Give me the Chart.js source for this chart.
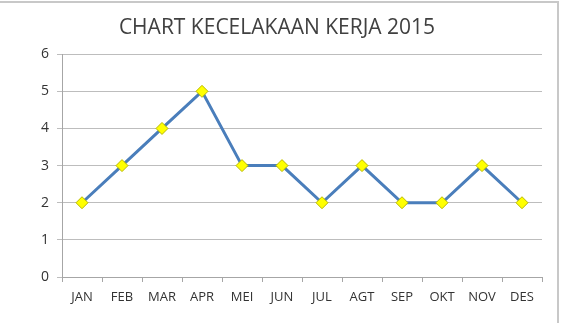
<!DOCTYPE html>
<html>
<head>
<meta charset="utf-8">
<script src="https://cdn.jsdelivr.net/npm/chart.js@4"></script>
<style>
  html, body { margin: 0; padding: 0; background: #fff; }
  #wrap { width: 561px; height: 323px; }
</style>
</head>
<body>
<div id="wrap"><canvas id="chart" width="561" height="323"></canvas></div>
<script>
// Data
const months = ['JAN', 'FEB', 'MAR', 'APR', 'MEI', 'JUN', 'JUL', 'AGT', 'SEP', 'OKT', 'NOV', 'DES'];
const accidents = [2, 3, 4, 5, 3, 3, 2, 3, 2, 2, 3, 2];
const yTicks = [0, 1, 2, 3, 4, 5, 6];

const labelFont = { family: "'Open Sans', 'Liberation Sans', sans-serif", size: 13 };

// thin frame round the chart (only top and right show in the picture)
const frame = {
    id: 'frame',
    beforeDraw(chart) {
        const ctx = chart.ctx;
        ctx.save();
        ctx.strokeStyle = '#c8c8c8';
        ctx.lineWidth = 2;
        ctx.beginPath();
        ctx.moveTo(0, 2);
        ctx.lineTo(558, 2);
        ctx.lineTo(558, 323);
        ctx.stroke();
        ctx.restore();
    }
};

new Chart(document.getElementById('chart'), {
    type: 'line',
    data: {
        labels: months,
        datasets: [{
            label: 'Kecelakaan',
            data: accidents,
            borderColor: '#4a7ebb',
            borderWidth: 3,
            tension: 0,
            pointStyle: 'rectRot',
            pointRadius: 6,
            pointBackgroundColor: '#ffff00',
            pointBorderColor: '#b8b800',
            pointBorderWidth: 1
        }]
    },
    options: {
        responsive: false,
        animation: false,
        layout: { padding: { left: 12, right: 19, top: 0, bottom: 0 } },
        plugins: {
            legend: { display: false },
            tooltip: { enabled: false },
            title: {
                display: true,
                text: 'CHART KECELAKAAN KERJA 2015',
                color: '#404040',
                font: { family: "'Open Sans', 'Liberation Sans', sans-serif", size: 21, weight: 'normal', lineHeight: 1.2 },
                padding: { top: 15, bottom: 14 }
            }
        },
        scales: {
            x: {
                offset: true,
                grid: {
                    offset: true,
                    drawOnChartArea: false,
                    drawTicks: true,
                    tickLength: 5,
                    color: '#a6a6a6'
                },
                border: { color: '#a6a6a6', width: 1 },
                ticks: { color: '#333333', font: labelFont, padding: 7, maxRotation: 0 },
                afterFit(scale) { scale.height = 46; }
            },
            y: {
                min: 0,
                max: 6,
                afterBuildTicks(scale) { scale.ticks = yTicks.map(v => ({ value: v })); },
                grid: {
                    color: '#bdbdbd',
                    tickLength: 5,
                    lineWidth: 1
                },
                border: { color: '#a6a6a6', width: 1 },
                ticks: { color: '#333333', font: { family: labelFont.family, size: 14 }, padding: 8 },
                afterFit(scale) { scale.width = 50; }
            }
        }
    },
    plugins: [frame]
});
</script>
</body>
</html>
